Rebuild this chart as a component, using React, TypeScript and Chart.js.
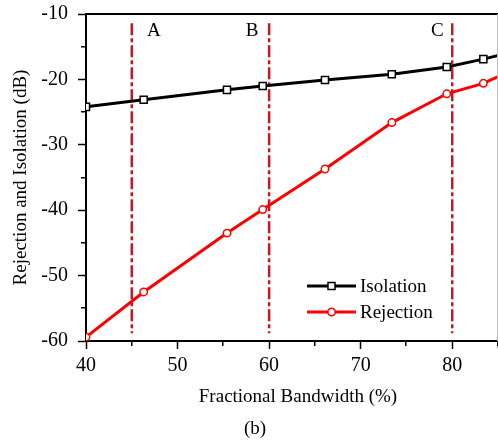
import React, { useEffect, useRef } from 'react';
import { Chart, registerables } from 'chart.js';

Chart.register(...registerables);

// ---- Data ----
const fractionalBandwidth = [40, 46.3, 55.4, 59.3, 66.1, 73.4, 79.4, 83.4, 88];
const isolation = [-24.2, -23.1, -21.6, -21.0, -20.1, -19.2, -18.1, -16.9, -15.3];
const rejection = [-59.4, -52.5, -43.5, -39.9, -33.7, -26.6, -22.2, -20.6, -17.7];
const markerValues = [45, 60, 80];
const markerLabels = ['A', 'B', 'C'];
const markerTop = -11.4;
const markerBottom = -58.8;
const xMin = 40;
const xMax = 85;
const yMin = -60;
const yMax = -10;
const xMinorTicks = [45, 55, 65, 75, 85];
const yMinorTicks = [-15, -25, -35, -45, -55];
const seriesNames = ['Isolation', 'Rejection'];
const xTitle = 'Fractional Bandwidth (%)';
const yTitle = 'Rejection and Isolation (dB)';
const caption = '(b)';

const FONT = "'Liberation Serif', 'Times New Roman', serif";
const DASH_COLOR = '#c01a22';

const overlayPlugin = {
  id: 'overlay',
  afterDraw(chart: any) {
    const { ctx, chartArea, scales } = chart;
    const { left, right, top, bottom } = chartArea;
    ctx.save();
    // top border
    ctx.strokeStyle = '#000';
    ctx.lineWidth = 2;
    ctx.beginPath();
    ctx.moveTo(left - 1, top);
    ctx.lineTo(right, top);
    ctx.stroke();
    // right border (light)
    ctx.strokeStyle = '#bbbbbb';
    ctx.lineWidth = 1;
    ctx.beginPath();
    ctx.moveTo(right - 0.5, top);
    ctx.lineTo(right - 0.5, bottom);
    ctx.stroke();

    // minor ticks
    ctx.strokeStyle = '#000';
    ctx.lineWidth = 1.5;
    ctx.beginPath();
    xMinorTicks.forEach((v) => {
      const px = Math.round(scales.x.getPixelForValue(v)) - 0.25;
      ctx.moveTo(px, bottom);
      ctx.lineTo(px, bottom + 5);
    });
    yMinorTicks.forEach((v) => {
      const py = Math.round(scales.y.getPixelForValue(v)) - 0.25;
      ctx.moveTo(left, py);
      ctx.lineTo(left - 5, py);
    });
    ctx.stroke();

    // A / B / C labels
    ctx.fillStyle = '#000';
    ctx.font = `19px ${FONT}`;
    ctx.textAlign = 'center';
    ctx.textBaseline = 'middle';
    const offsets = [22, -17, -15];
    markerValues.forEach((v, i) => {
      const px = scales.x.getPixelForValue(v);
      ctx.fillText(markerLabels[i], px + offsets[i], top + 17);
    });

    // legend
    const styles = [
      { color: '#000', shape: 'rect' },
      { color: '#ff0000', shape: 'circle' },
    ];
    const lx0 = 307;
    const lx1 = 356;
    const ly = [286, 312];
    seriesNames.forEach((name, i) => {
      const y = ly[i];
      ctx.strokeStyle = styles[i].color;
      ctx.lineWidth = 3;
      ctx.beginPath();
      ctx.moveTo(lx0, y);
      ctx.lineTo(lx1, y);
      ctx.stroke();
      const cx = (lx0 + lx1) / 2;
      ctx.fillStyle = '#fff';
      ctx.lineWidth = 1.5;
      ctx.beginPath();
      if (styles[i].shape === 'rect') {
        ctx.rect(cx - 3.5, y - 3.5, 7, 7);
      } else {
        ctx.arc(cx, y, 3.7, 0, Math.PI * 2);
      }
      ctx.fill();
      ctx.stroke();
      ctx.fillStyle = '#000';
      ctx.font = `19px ${FONT}`;
      ctx.textAlign = 'left';
      ctx.textBaseline = 'middle';
      ctx.fillText(name, 360, y + 1);
    });

    // x title and caption
    ctx.fillStyle = '#000';
    ctx.font = `19px ${FONT}`;
    ctx.textAlign = 'center';
    ctx.textBaseline = 'middle';
    ctx.fillText(xTitle, 298, 397);
    ctx.fillText(caption, 255, 429);
    ctx.restore();
  },
};

const zeroPadding = (scale: any) => {
  scale.paddingLeft = 0;
  scale.paddingRight = 0;
  scale.paddingTop = 0;
  scale.paddingBottom = 0;
};

export default function App() {
  const canvasRef = useRef<HTMLCanvasElement>(null);

  useEffect(() => {
    document.body.style.margin = '0';
    const canvas = canvasRef.current;
    if (!canvas) return;

    const toPoints = (ys: number[]) => fractionalBandwidth.map((x, i) => ({ x, y: ys[i] }));

    const markerDatasets = markerValues.map((v) => ({
      type: 'line' as const,
      label: 'marker',
      data: [
        { x: v, y: markerTop },
        { x: v, y: markerBottom },
      ],
      borderColor: DASH_COLOR,
      borderWidth: 2.5,
      borderDash: [12, 3, 4, 3],
      pointRadius: 0,
      fill: false,
    }));

    const chart = new Chart(canvas, {
      type: 'line',
      data: {
        datasets: [
          {
            label: seriesNames[0],
            data: toPoints(isolation),
            borderColor: '#000',
            borderWidth: 3,
            pointStyle: 'rect',
            pointRadius: 5,
            pointBorderWidth: 1.5,
            pointBackgroundColor: '#fff',
            pointBorderColor: '#000',
            tension: 0,
          },
          {
            label: seriesNames[1],
            data: toPoints(rejection),
            borderColor: '#ff0000',
            borderWidth: 3,
            pointStyle: 'circle',
            pointRadius: 3.7,
            pointBorderWidth: 1.5,
            pointBackgroundColor: '#fff',
            pointBorderColor: '#ff0000',
            tension: 0,
          },
          ...markerDatasets,
        ] as any,
      },
      options: {
        responsive: false,
        animation: false,
        devicePixelRatio: 1,
        layout: { autoPadding: false, padding: { top: 14, right: 0, left: 0, bottom: 0 } },
        plugins: {
          legend: { display: false },
          tooltip: { enabled: false },
        },
        scales: {
          x: {
            type: 'linear',
            min: xMin,
            max: xMax,
            ticks: {
              stepSize: 10,
              autoSkip: false,
              maxRotation: 0,
              color: '#000',
              padding: 5,
              font: { family: FONT, size: 20 },
              callback: (v: any) => (Number(v) % 10 === 0 ? String(v) : ''),
            },
            grid: {
              drawOnChartArea: false,
              drawTicks: true,
              tickLength: 8,
              tickWidth: 1.5,
              tickColor: '#000',
            },
            border: { display: true, color: '#000', width: 2 },
            title: { display: false },
            afterFit: (scale: any) => {
              scale.height = 101;
              zeroPadding(scale);
            },
          },
          y: {
            type: 'linear',
            min: yMin,
            max: yMax,
            ticks: {
              stepSize: 10,
              autoSkip: false,
              color: '#000',
              padding: 10,
              font: { family: FONT, size: 20 },
              callback: (v: any) => (Number(v) % 10 === 0 ? String(v) : ''),
            },
            grid: {
              drawOnChartArea: false,
              drawTicks: true,
              tickLength: 8,
              tickWidth: 1.5,
              tickColor: '#000',
            },
            border: { display: true, color: '#000', width: 2 },
            title: {
              display: true,
              text: yTitle,
              color: '#000',
              font: { family: FONT, size: 19 },
              padding: { top: 10, bottom: 0 },
            },
            afterFit: (scale: any) => {
              scale.width = 86;
              zeroPadding(scale);
            },
          },
        },
      } as any,
      plugins: [overlayPlugin],
    });

    return () => chart.destroy();
  }, []);

  return (
    <div style={{ position: 'absolute', left: 0, top: 0, width: 498, height: 442, background: '#fff' }}>
      <canvas ref={canvasRef} width={498} height={442} style={{ display: 'block' }} />
    </div>
  );
}
